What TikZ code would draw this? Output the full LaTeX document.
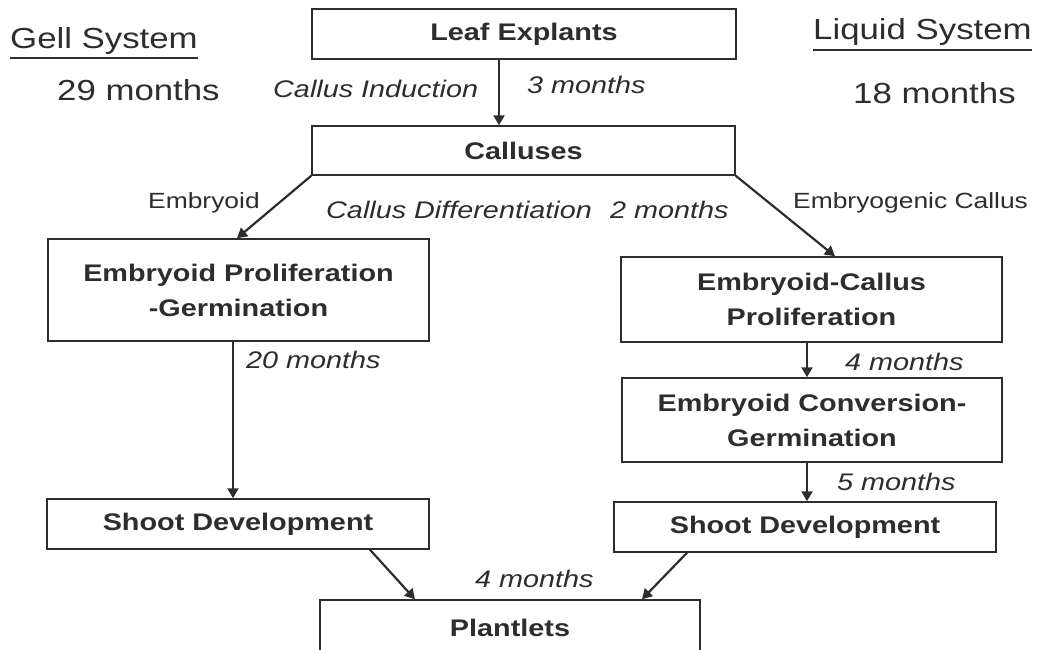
\documentclass[tikz,border=0pt]{standalone}
\usepackage{fontspec}
\setmainfont{Liberation Sans}[FakeStretch=1.2]
\usetikzlibrary{arrows.meta}
\definecolor{ink}{RGB}{45,45,45}
\begin{document}
\begin{tikzpicture}[x=1pt,y=-1pt,
  box/.style={draw=ink, line width=1.5pt, inner sep=0pt, align=center,
    font=\fontsize{24}{35}\selectfont\bfseries, text=ink},
  heading/.style={inner sep=0pt, anchor=base west, font=\fontsize{29}{34}\selectfont, text=ink},
  dur/.style={inner sep=0pt, anchor=base west, font=\fontsize{24}{28}\selectfont\itshape, text=ink},
  kind/.style={inner sep=0pt, anchor=base west, font=\fontsize{22}{26}\selectfont, text=ink},
  flow/.style={draw=ink, line width=2.2pt, -{Triangle[length=10pt,width=11pt]}},
  rule/.style={draw=ink, line width=1.2pt}
]
\path[use as bounding box, clip] (0,0) rectangle (1045,649);
\fill[white] (0,0) rectangle (1045,649);

% process boxes
\node[box, minimum width=424pt, minimum height=50pt] (leaf) at (524,34) {Leaf Explants};
\node[box, minimum width=423pt, minimum height=49pt] (call) at (523.5,150.5) {Calluses};
\node[box, minimum width=381pt, minimum height=102pt] (epg) at (238.5,290) {Embryoid Proliferation\\-Germination};
\node[box, minimum width=381pt, minimum height=85pt] (ecp) at (811.5,299.5) {Embryoid-Callus\\Proliferation};
\node[box, minimum width=380pt, minimum height=84pt] (ecg) at (812,420) {Embryoid Conversion-\\Germination};
\node[box, minimum width=382pt, minimum height=50pt] (sdl) at (238,524) {Shoot Development};
\node[box, minimum width=382pt, minimum height=50pt] (sdr) at (805,527) {Shoot Development};
\node[box, minimum width=380pt, minimum height=56pt] (plant) at (510,628) {Plantlets};

% headings, underlined
\node[heading] (gell) at (10,48) {Gell System};
\node[heading] (gellt) at (57,100) {29 months};
\node[heading] (liq) at (813,39) {Liquid System};
\node[heading] (liqt) at (853,103) {18 months};
\draw[rule] ([yshift=-10pt]gell.base west) -- ([yshift=-10pt]gell.base east);
\draw[rule] ([yshift=-11pt]liq.base west) -- ([yshift=-11pt]liq.base east);

% connectors
\draw[flow] ([xshift=-25pt]leaf.south) -- ([xshift=-24.5pt]call.north);
\draw[flow] (call.south west) -- ([xshift=-1.5pt]epg.north);
\draw[flow] (call.south east) -- ([xshift=23.5pt]ecp.north);
\draw[flow] ([xshift=-5.5pt]epg.south) -- ([xshift=-5pt]sdl.north);
\draw[flow] ([xshift=-4.5pt]ecp.south) -- ([xshift=-5pt]ecg.north);
\draw[flow] ([xshift=-5pt]ecg.south) -- ([xshift=2pt]sdr.north);
\draw[flow] ([xshift=132pt]sdl.south) -- ([xshift=-95pt]plant.north);
\draw[flow] ([xshift=-118pt]sdr.south) -- ([xshift=132pt]plant.north);

% connector labels
\node[dur] (lind) at (273,97) {Callus Induction};
\node[dur] (tind) at (527,93) {3 months};
\node[kind] (lemb) at (148,208) {Embryoid};
\node[dur] (ldif) at (326,218) {Callus Differentiation};
\node[dur] (tdif) at (610,218) {2 months};
\node[kind] (lecal) at (793,208) {Embryogenic Callus};
\node[dur] (tgel) at (246,368) {20 months};
\node[dur] (tecp) at (845,370) {4 months};
\node[dur] (tecg) at (837,490) {5 months};
\node[dur] (tpl) at (475,587) {4 months};
\end{tikzpicture}
\end{document}
